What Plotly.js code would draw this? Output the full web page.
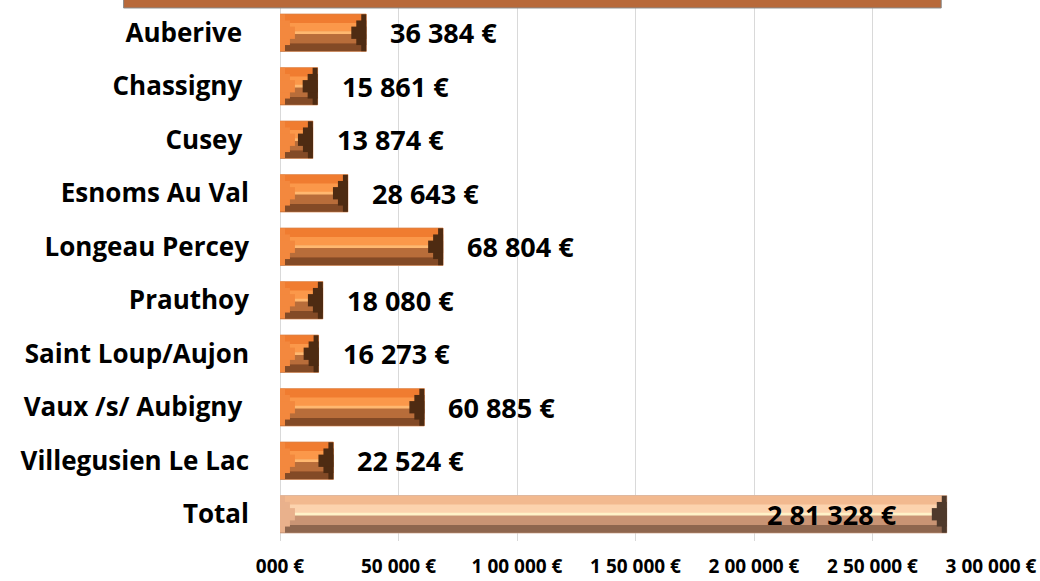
<!DOCTYPE html>
<html>
<head>
<meta charset="utf-8">
<script src="https://cdn.plot.ly/plotly-3.0.1.min.js"></script>
<style>
html,body{margin:0;padding:0;background:#fff;}
#chart{width:1040px;height:581px;}
</style>
</head>
<body>
<div id="chart"></div>
<script>
// ---- data ----
const categories = ["Auberive\u00a0", "Chassigny\u00a0", "Cusey\u00a0", "Esnoms Au Val", "Longeau Percey", "Prauthoy", "Saint Loup/Aujon", "Vaux /s/ Aubigny\u00a0", "Villegusien Le Lac", "Total"];
const amounts = [36384, 15861, 13874, 28643, 68804, 18080, 16273, 60885, 22524, 281328];
const valueLabels = ["36 384 €", "15 861 €", "13 874 €", "28 643 €", "68 804 €", "18 080 €", "16 273 €", "60 885 €", "22 524 €", "2 81 328 €"];
const tickValues = [0, 50000, 100000, 150000, 200000, 250000, 300000];
const tickLabels = ["000 €", "50 000 €", "1 00 000 €", "1 50 000 €", "2 00 000 €", "2 50 000 €", "3 00 000 €"];
// partially visible bar cut off at the top edge of the picture
const topBarStart = -66000;
const topBarEnd = 279000;

// ---- styling ----
const xMax = 300000;
const FONT = '"Open Sans", Lato, sans-serif';
const isTotal = categories.map(c => c === "Total");
const pal = {
  normal: {base:'#a95f30', top:'#f07c30', upMid:'#fb984a', high:'#ffb870', lowMid:'#b86d3a', bottom:'#834a26', left:'#f3883e', right:'#4e2b12', edge:'#e3a47a'},
  total:  {base:'#b98466', top:'#f2b98f', upMid:'#fcd3ae', high:'#fff2c8', lowMid:'#c99474', bottom:'#8e664e', left:'#e9b18c', right:'#4f3a2c', edge:'#d8b8a4'}
};
const col = key => isTotal.map(t => t ? pal.total[key] : pal.normal[key]);

const traces = [];
function band(offset, width, key, x, base, line) {
  const t = {
    type: 'bar', orientation: 'h', y: categories, x: x, offset: offset, width: width,
    marker: {color: col(key), line: line || {width: 0}},
    hoverinfo: 'skip', showlegend: false
  };
  if (base) t.base = base;
  traces.push(t);
}
// body bands (top → bottom in pixels; axis is reversed)
band(-0.35, 0.7, 'base', amounts, null, {width: 1, color: col('edge')});
band(-0.345, 0.175, 'top', amounts);
band(-0.18, 0.16, 'upMid', amounts);
band(-0.03, 0.06, 'high', amounts);
band(0.03, 0.17, 'lowMid', amounts);
band(0.2, 0.145, 'bottom', amounts);
// bevelled ends (stepped triangles)
const capLen = amounts.map(v => Math.min(6300, v / 2));
const steps = [[1/3, 0.69], [2/3, 0.46], [1, 0.23]];
steps.forEach(([f, w]) => {
  const len = capLen.map(c => c * f);
  band(-w / 2, w, 'right', len, amounts.map((v, i) => v - len[i]));
  band(-w / 2, w, 'left', len, amounts.map(() => 0));
});

const annotations = categories.map((c, i) => ({
  x: amounts[i], y: c, xref: 'x', yref: 'y',
  text: valueLabels[i], showarrow: false,
  xanchor: isTotal[i] ? 'right' : 'left',
  xshift: isTotal[i] ? -48 : 22,
  font: {family: FONT, size: 27, color: '#000', weight: 'bold'}
}));

const plotL = 280, plotW = 711;
const layout = {
  width: 1040, height: 581,
  margin: {l: plotL, r: 1040 - plotL - plotW, t: 6, b: 40},
  paper_bgcolor: '#fff', plot_bgcolor: '#fff',
  barmode: 'overlay',
  font: {family: FONT, color: '#000'},
  xaxis: {
    range: [0, xMax], tickvals: tickValues, ticktext: tickLabels,
    showgrid: true, gridcolor: '#d9d9d9', gridwidth: 1,
    zeroline: true, zerolinecolor: '#d9d9d9', zerolinewidth: 1,
    showline: false, ticks: '', ticklabelstandoff: 12,
    tickfont: {family: FONT, size: 19, color: '#000', weight: 'bold'},
    fixedrange: true
  },
  yaxis: {
    type: 'category', categoryorder: 'array', categoryarray: categories,
    range: [categories.length - 0.5, -0.5],
    showgrid: false, zeroline: false, showline: false, ticks: '',
    ticklabelstandoff: 30,
    tickfont: {family: FONT, size: 26, color: '#000', weight: 'bold'},
    fixedrange: true
  },
  annotations: annotations,
  shapes: [{
    type: 'rect', xref: 'paper', yref: 'paper',
    x0: topBarStart / xMax, x1: topBarEnd / xMax, y0: 0.9963, y1: 1.05,
    fillcolor: '#b8693a', line: {color: '#8a8a8a', width: 1}
  }]
};

Plotly.newPlot('chart', traces, layout, {staticPlot: true, displayModeBar: false});
</script>
</body>
</html>
